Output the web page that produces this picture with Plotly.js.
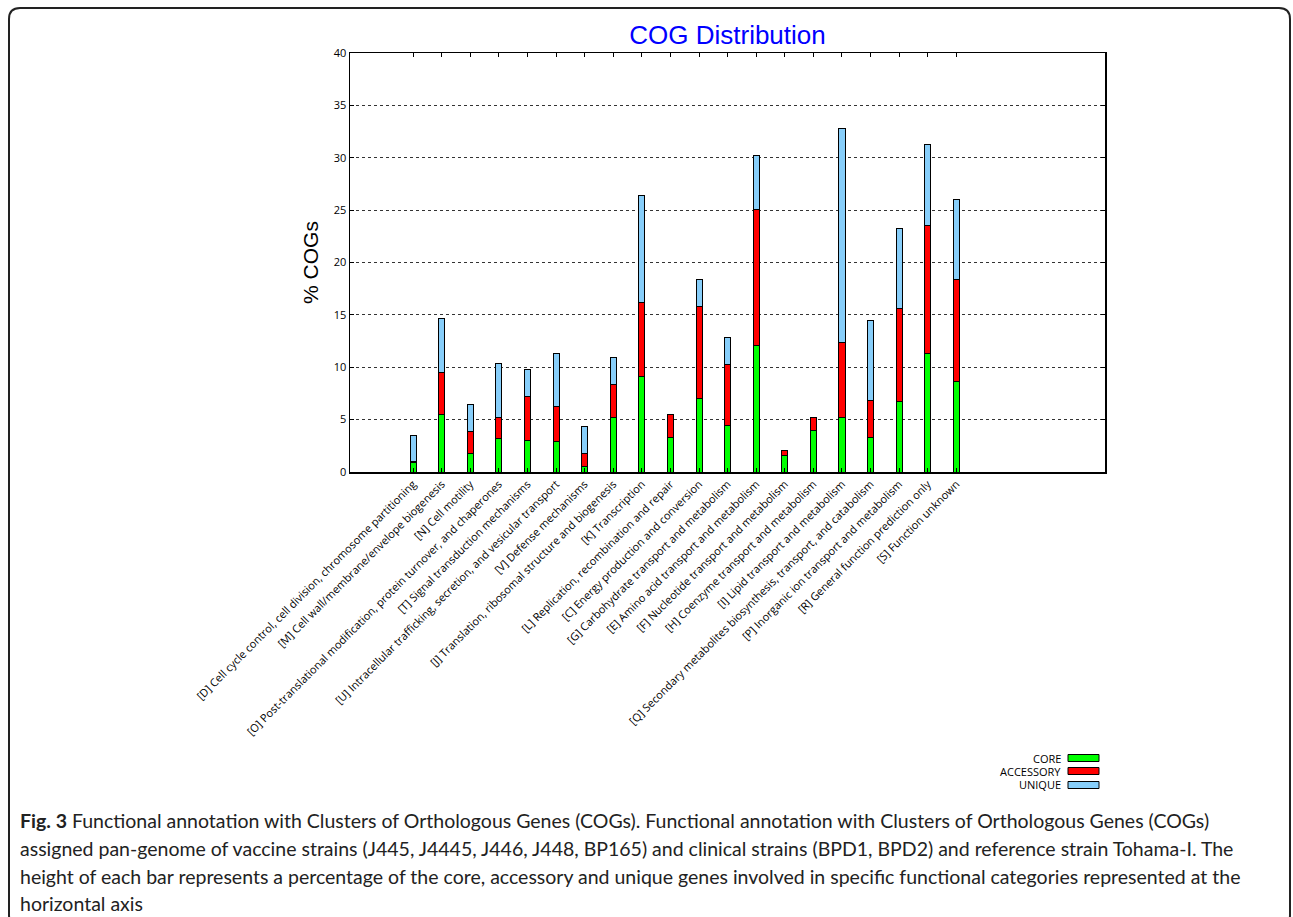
<!DOCTYPE html>
<html>
<head>
<meta charset="utf-8">
<script src="https://cdn.plot.ly/plotly-3.0.1.min.js"></script>
<style>html,body{margin:0;padding:0;background:#fff;}#chart{width:1293px;height:917px;}</style>
</head>
<body>
<div id="chart"></div>
<script>
var categories = [
  "[D] Cell cycle control, cell division, chromosome partitioning",
  "[M] Cell wall/membrane/envelope biogenesis",
  "[N] Cell motility",
  "[O] Post-translational modification, protein turnover, and chaperones",
  "[T] Signal transduction mechanisms",
  "[U] Intracellular trafficking, secretion, and vesicular transport",
  "[V] Defense mechanisms",
  "[J] Translation, ribosomal structure and biogenesis",
  "[K] Transcription",
  "[L] Replication, recombination and repair",
  "[C] Energy production and conversion",
  "[G] Carbohydrate transport and metabolism",
  "[E] Amino acid transport and metabolism",
  "[F] Nucleotide transport and metabolism",
  "[H] Coenzyme transport and metabolism",
  "[I] Lipid transport and metabolism",
  "[Q] Secondary metabolites biosynthesis, transport, and catabolism",
  "[P] Inorganic ion transport and metabolism",
  "[R] General function prediction only",
  "[S] Function unknown"
];
var core      = [0.86, 5.53, 1.72, 3.21, 3.05, 2.92, 0.57, 5.21, 9.15, 3.34, 6.99, 4.42, 12.07, 1.53, 3.97, 5.18, 3.30, 6.70, 11.34, 8.67];
var accessory = [0.12, 4.00, 2.16, 2.00, 4.16, 3.31, 1.18, 3.15, 6.99, 2.19, 8.83, 5.87, 13.00, 0.54, 1.24, 7.18, 3.50, 8.87, 12.17, 9.73];
var unique    = [2.55, 5.15, 2.54, 5.12, 2.54, 5.11, 2.57, 2.57, 10.26, 0.00, 2.58, 2.55, 5.15, 0.00, 0.00, 20.43, 7.69, 7.69, 7.73, 7.66];
var yTicks = [0, 5, 10, 15, 20, 25, 30, 35, 40];
var seriesNames = ["CORE", "ACCESSORY", "UNIQUE"];
var seriesColors = ["#00ff00", "#ff0000", "#87cefa"];
var captionLines = [
  "<b>Fig. 3</b> Functional annotation with Clusters of Orthologous Genes (COGs). Functional annotation with Clusters of Orthologous Genes (COGs)",
  "assigned pan-genome of vaccine strains (J445, J4445, J446, J448, BP165) and clinical strains (BPD1, BPD2) and reference strain Tohama-I. The",
  "height of each bar represents a percentage of the core, accessory and unique genes involved in specific functional categories represented at the",
  "horizontal axis"
];

// plot area in pixels
var L = 350, R = 1105, T = 53, B = 472, W = 1293, H = 917;
function px(X){ return (X - L) / (R - L); }
function py(Y){ return (B - Y) / (B - T); }

var seriesData = [core, accessory, unique];
var traces = seriesData.map(function(vals, i){
  return {
    type: "bar",
    x: categories,
    y: vals,
    name: seriesNames[i],
    width: 0.21,
    marker: {color: seriesColors[i], line: {color: "#000", width: 1}},
    showlegend: false,
    hoverinfo: "y"
  };
});

// rounded frame (bottom edge runs off the picture)
var fx0 = 9, fy0 = 8, fx1 = 1290, fy1 = 926, rr = 11;
var framePath = "M " + px(fx0) + "," + py(fy0 + rr) +
  " Q " + px(fx0) + "," + py(fy0) + " " + px(fx0 + rr) + "," + py(fy0) +
  " L " + px(fx1 - rr) + "," + py(fy0) +
  " Q " + px(fx1) + "," + py(fy0) + " " + px(fx1) + "," + py(fy0 + rr) +
  " L " + px(fx1) + "," + py(fy1 - rr) +
  " Q " + px(fx1) + "," + py(fy1) + " " + px(fx1 - rr) + "," + py(fy1) +
  " L " + px(fx0 + rr) + "," + py(fy1) +
  " Q " + px(fx0) + "," + py(fy1) + " " + px(fx0) + "," + py(fy1 - rr) + " Z";

var shapes = [{
  type: "path", xref: "paper", yref: "paper", path: framePath,
  line: {color: "#222", width: 2}, fillcolor: "rgba(0,0,0,0)"
}];
var annotations = [];
var smallFont = "Open Sans, Noto Sans, sans-serif";

// legend (text left of swatch, gnuplot style)
var legY = [758, 771, 785];
seriesNames.forEach(function(n, i){
  shapes.push({
    type: "rect", xref: "paper", yref: "paper",
    x0: px(1068), x1: px(1099), y0: py(legY[i] + 3.5), y1: py(legY[i] - 3.5),
    fillcolor: seriesColors[i], line: {color: "#000", width: 1}
  });
  annotations.push({
    xref: "paper", yref: "paper", x: px(1063), y: py(legY[i]),
    xanchor: "right", yanchor: "middle", showarrow: false, text: n,
    font: {family: smallFont, size: 11, color: "#000"}
  });
});

// caption
var capY = [820, 848, 876, 903];
captionLines.forEach(function(t, i){
  annotations.push({
    xref: "paper", yref: "paper", x: px(18), y: py(capY[i]),
    xanchor: "left", yanchor: "middle", showarrow: false, text: t, align: "left",
    font: {family: "Lato, Open Sans, sans-serif", size: 19.5, color: "#222"}
  });
});

var layout = {
  width: W, height: H,
  margin: {l: L, r: W - R, t: T, b: H - B, pad: 0},
  paper_bgcolor: "#fff", plot_bgcolor: "#fff",
  barmode: "stack",
  showlegend: false,
  title: {
    text: "COG Distribution", x: px(727.5), xref: "paper", xanchor: "center",
    y: 1 - 35 / H, yanchor: "middle",
    font: {family: "Liberation Sans, Arial, sans-serif", size: 26, color: "#0000ff"}
  },
  xaxis: {
    type: "category",
    range: [-2.21, 24.2],
    tickangle: -45,
    ticks: "inside", ticklen: 4, tickcolor: "#000",
    mirror: "ticks", showline: true, linecolor: "#000", linewidth: 1.5,
    showgrid: false, zeroline: false,
    tickfont: {family: smallFont, size: 11, color: "#000"},
    automargin: false
  },
  yaxis: {
    range: [0, 40],
    tickvals: yTicks,
    ticktext: yTicks.map(String),
    ticks: "inside", ticklen: 4, tickcolor: "#000",
    mirror: "ticks", showline: true, linecolor: "#000", linewidth: 1.5,
    showgrid: true, gridcolor: "#333", griddash: "dot", gridwidth: 1,
    zeroline: false,
    tickfont: {family: smallFont, size: 11, color: "#000"},
    title: {text: "% COGs", standoff: 9, font: {family: "Liberation Sans, Arial, sans-serif", size: 21, color: "#000"}},
    automargin: false
  },
  shapes: shapes,
  annotations: annotations
};

Plotly.newPlot("chart", traces, layout, {displayModeBar: false, staticPlot: true});
</script>
</body>
</html>
